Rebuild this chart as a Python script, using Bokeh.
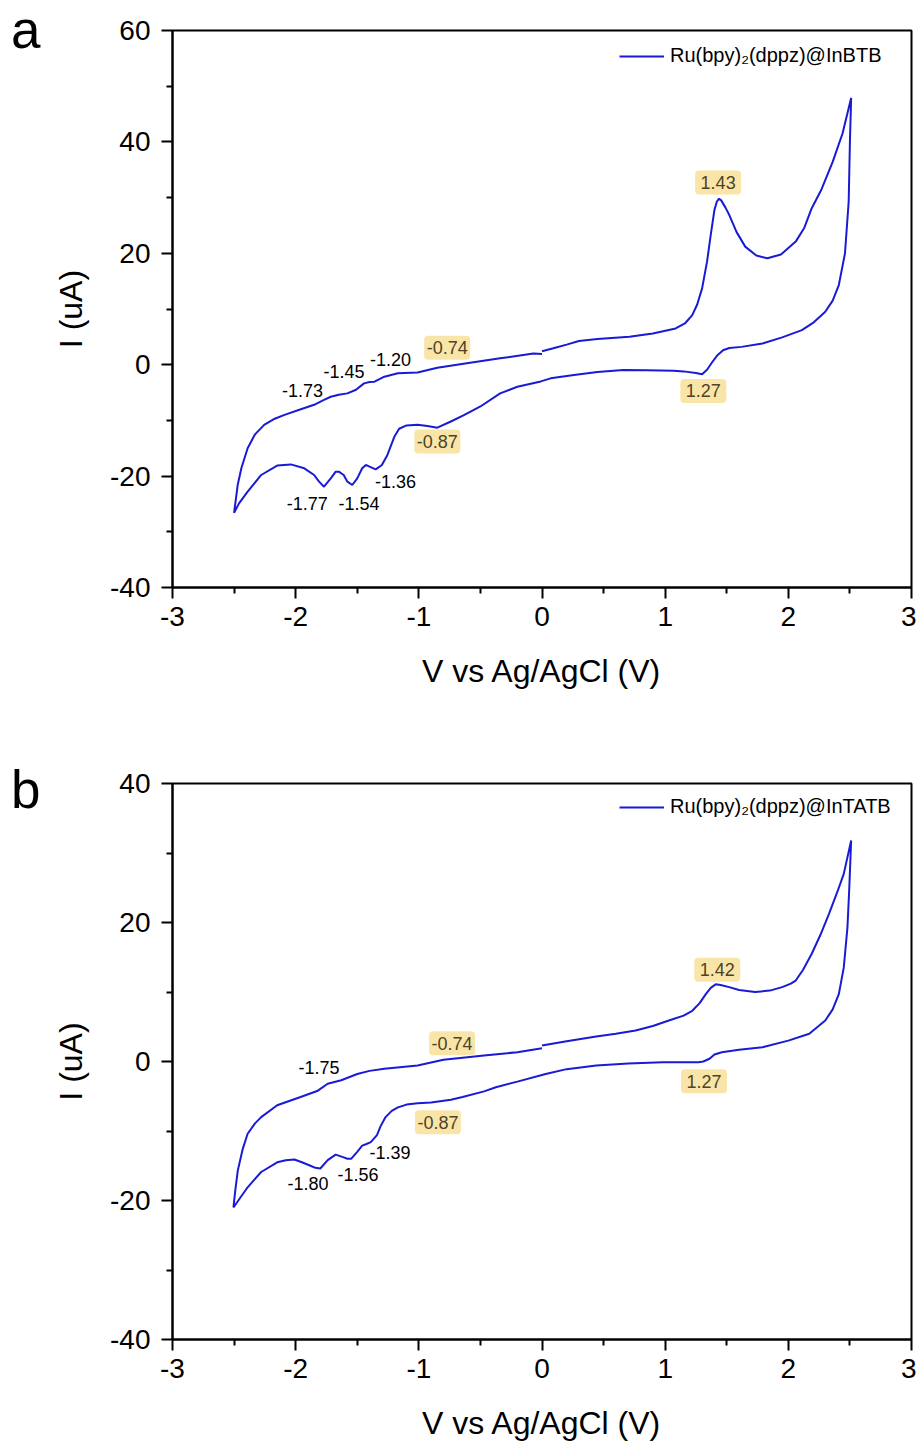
from bokeh.plotting import figure
from bokeh.models import Range1d, FixedTicker, ColumnDataSource, Legend, LegendItem, Div
from bokeh.layouts import column, row
from bokeh.core.properties import value
from bokeh.embed import file_html
from bokeh.resources import INLINE

FONT = "Liberation Sans"
BLUE = "#1a1ad6"
BOX_FILL = "#fae5a8"
BOX_TEXT = "#4d4326"

# ---------------- Panel a: Ru(bpy)2(dppz)@InBTB ----------------
a_fwd_v = [0.00, 0.10, 0.20, 0.30, 0.45, 0.71, 0.90, 1.085, 1.16, 1.22, 1.26, 1.30, 1.34, 1.37, 1.40,
           1.42, 1.437, 1.455, 1.49, 1.52, 1.58, 1.65, 1.74, 1.83, 1.94, 2.06, 2.13, 2.19, 2.27,
           2.36, 2.44, 2.51]
a_fwd_i = [2.4, 3.0, 3.6, 4.25, 4.6, 5.0, 5.6, 6.5, 7.4, 8.9, 10.8, 13.7, 18.5, 23.3, 27.8,
           29.3, 29.8, 29.5, 28.2, 26.9, 23.8, 21.2, 19.6, 19.1, 19.8, 22.1, 24.6, 28.1, 31.5,
           36.4, 41.5, 47.9]
a_rev_v = [2.51, 2.50, 2.49, 2.46, 2.41, 2.36, 2.30, 2.20, 2.11, 1.95, 1.79, 1.62, 1.52, 1.47, 1.42,
           1.38, 1.34, 1.30, 1.25, 1.15, 1.07, 0.85, 0.66, 0.45, 0.26, 0.07, -0.01, -0.20, -0.34,
           -0.50, -0.63, -0.74, -0.85, -0.93, -1.01, -1.10, -1.16, -1.20, -1.255, -1.30, -1.35,
           -1.40, -1.43, -1.46, -1.50, -1.54, -1.58, -1.61, -1.65, -1.675, -1.715, -1.77, -1.81,
           -1.85, -1.93, -2.04, -2.15, -2.28, -2.39, -2.46, -2.50]
a_rev_i = [47.9, 40.0, 29.3, 20.0, 14.3, 11.5, 9.5, 7.5, 6.2, 4.9, 3.8, 3.2, 3.0, 2.6, 1.6,
           0.4, -0.9, -1.7, -1.5, -1.2, -1.1, -1.0, -0.95, -1.3, -1.85, -2.45, -3.0, -3.95, -5.15,
           -7.5, -9.0, -10.2, -11.3, -11.0, -10.8, -10.9, -11.5, -13.0, -16.2, -18.0, -18.8,
           -18.3, -18.0, -18.6, -20.4, -21.6, -21.0, -19.8, -19.2, -19.2, -20.4, -21.9, -21.0,
           -19.8, -18.6, -17.9, -18.1, -19.8, -22.8, -24.9, -26.6]
a_ret_v = [-2.50, -2.47, -2.44, -2.39, -2.33, -2.256, -2.17, -2.09, -1.97, -1.85, -1.77, -1.715,
           -1.65, -1.58, -1.51, -1.445, -1.40, -1.36, -1.28, -1.17, -1.01, -0.85, -0.61, -0.34,
           -0.07, 0.00]
a_ret_i = [-26.6, -21.5, -18.5, -15.0, -12.5, -10.8, -9.7, -9.0, -8.1, -7.2, -6.3, -5.75,
           -5.4, -5.15, -4.5, -3.35, -3.1, -3.05, -2.15, -1.55, -1.4, -0.55, 0.25, 1.15,
           2.0, 1.9]

a_lab_text = ["-1.73", "-1.45", "-1.20", "-1.77", "-1.54", "-1.36"]
a_lab_v = [-1.945, -1.607, -1.23, -1.905, -1.486, -1.19]
a_lab_i = [-4.55, -1.25, 0.85, -24.9, -24.9, -21.0]
a_box_text = ["-0.74", "-0.87", "1.43", "1.27"]
a_box_v = [-0.77, -0.85, 1.43, 1.31]
a_box_i = [3.05, -13.8, 32.7, -4.7]

# ---------------- Panel b: Ru(bpy)2(dppz)@InTATB ----------------
b_fwd_v = [0.00, 0.20, 0.44, 0.60, 0.76, 0.90, 1.03, 1.15, 1.22, 1.28, 1.33, 1.37, 1.41, 1.45,
           1.52, 1.60, 1.73, 1.85, 1.95, 2.02, 2.06, 2.12, 2.19, 2.26, 2.33, 2.40, 2.45, 2.51]
b_fwd_i = [2.3, 2.9, 3.6, 4.0, 4.46, 5.1, 5.9, 6.6, 7.3, 8.4, 9.7, 10.6, 11.1, 11.0,
           10.7, 10.3, 10.0, 10.2, 10.7, 11.2, 11.65, 13.2, 15.5, 18.2, 21.25, 24.5, 27.0, 31.8]
b_rev_v = [2.51, 2.495, 2.48, 2.45, 2.41, 2.36, 2.30, 2.17, 2.00, 1.79, 1.60, 1.46, 1.40, 1.36,
           1.31, 1.27, 1.10, 0.98, 0.70, 0.44, 0.20, 0.03, -0.20, -0.375, -0.47, -0.645, -0.74,
           -0.90, -1.01, -1.10, -1.17, -1.22, -1.27, -1.31, -1.34, -1.39, -1.43, -1.46, -1.50,
           -1.55, -1.58, -1.61, -1.675, -1.74, -1.80, -1.84, -1.88, -1.95, -2.01, -2.08, -2.15,
           -2.28, -2.39, -2.45, -2.505]
b_rev_i = [31.8, 25.0, 19.3, 13.5, 9.7, 7.5, 5.9, 4.0, 3.0, 2.06, 1.7, 1.34, 1.0, 0.4,
           0.0, -0.1, -0.1, -0.1, -0.3, -0.58, -1.1, -1.8, -2.9, -3.7, -4.3, -5.1, -5.5,
           -5.9, -6.0, -6.2, -6.6, -7.1, -8.0, -9.3, -10.6, -11.6, -11.9, -12.1, -13.0,
           -14.0, -14.0, -13.8, -13.4, -14.2, -15.4, -15.3, -15.0, -14.5, -14.1, -14.2, -14.5,
           -15.9, -18.1, -19.6, -21.0]
b_ret_v = [-2.505, -2.49, -2.47, -2.43, -2.39, -2.33, -2.28, -2.15, -1.96, -1.82, -1.74, -1.63,
           -1.50, -1.40, -1.28, -1.01, -0.80, -0.47, -0.20, 0.00]
b_ret_i = [-21.0, -18.5, -15.7, -12.6, -10.4, -8.9, -8.0, -6.3, -5.1, -4.2, -3.2, -2.7,
           -1.8, -1.35, -1.05, -0.58, 0.24, 0.86, 1.34, 1.9]

b_lab_text = ["-1.75", "-1.80", "-1.56", "-1.39"]
b_lab_v = [-1.81, -1.90, -1.494, -1.234]
b_lab_i = [-0.82, -17.6, -16.26, -13.05]
b_box_text = ["-0.74", "-0.87", "1.42", "1.27"]
b_box_v = [-0.73, -0.845, 1.423, 1.315]
b_box_i = [2.63, -8.73, 13.2, -2.83]

x_ticks = [-3, -2, -1, 0, 1, 2, 3]
x_minor = [-2.5, -1.5, -0.5, 0.5, 1.5, 2.5]

DIV_W = 48


def make_panel(legend_label, fv, fi, rv, ri, tv, ti, lt, lv, li, bt, bv, bi,
               y_lo, y_hi, y_ticks, y_minor, frame_h, top_border, bottom_border, legend_vy):
    p = figure(frame_width=739, frame_height=frame_h,
               x_range=Range1d(-3, 3), y_range=Range1d(y_lo, y_hi),
               output_backend="svg", toolbar_location=None,
               min_border_left=172 - DIV_W, min_border_right=5,
               min_border_top=top_border, min_border_bottom=bottom_border)
    p.xgrid.visible = False
    p.ygrid.visible = False
    p.outline_line_color = "black"
    p.outline_line_width = 2
    p.background_fill_color = "white"
    p.border_fill_color = "white"

    for ax in (p.xaxis[0], p.yaxis[0]):
        ax.axis_line_width = 2
        ax.axis_line_color = "black"
        ax.major_tick_line_width = 2
        ax.minor_tick_line_width = 2
        ax.major_tick_in = 0
        ax.minor_tick_in = 0
        ax.major_tick_out = 11
        ax.minor_tick_out = 6
        ax.major_label_text_font = FONT
        ax.major_label_text_font_size = "28px"
        ax.major_label_text_color = "black"
        ax.axis_label_text_font = FONT
        ax.axis_label_text_font_size = "32px"
        ax.axis_label_text_font_style = "normal"
        ax.axis_label_text_color = "black"

    p.xaxis.ticker = FixedTicker(ticks=x_ticks, minor_ticks=x_minor)
    p.yaxis.ticker = FixedTicker(ticks=y_ticks, minor_ticks=y_minor)
    p.xaxis.major_label_overrides = {t: str(t) for t in x_ticks}
    p.yaxis.major_label_overrides = {t: str(t) for t in y_ticks}
    p.xaxis.axis_label = "V vs Ag/AgCl (V)"
    p.yaxis.axis_label = "I (uA)"
    p.xaxis.major_label_standoff = 8
    p.yaxis.major_label_standoff = 11
    p.xaxis.axis_label_standoff = 24
    p.yaxis.axis_label_standoff = 18

    v = fv + rv[1:] + tv[1:]
    i = fi + ri[1:] + ti[1:]
    r = p.line(v, i, line_color=BLUE, line_width=2)

    src_l = ColumnDataSource(dict(x=lv, y=li, text=lt))
    p.text(x="x", y="y", text="text", source=src_l, text_font=value(FONT),
           text_font_size="18px", text_align="center", text_baseline="middle",
           text_color="black")
    src_b = ColumnDataSource(dict(x=bv, y=bi, text=bt))
    p.rect(x="x", y="y", width=46, height=24, width_units="screen", height_units="screen",
           source=src_b, fill_color=BOX_FILL, line_color=None, border_radius=4)
    p.text(x="x", y="y", text="text", source=src_b, text_font=value(FONT),
           text_font_size="18px", text_align="center", text_baseline="middle",
           text_color=BOX_TEXT)

    legend = Legend(items=[LegendItem(label=legend_label, renderers=[r])],
                    location=(447, legend_vy), margin=0, padding=0,
                    glyph_width=45, glyph_height=20, label_standoff=6, label_height=20,
                    label_text_font=FONT, label_text_font_size="20px",
                    label_text_color="black",
                    border_line_color=None, background_fill_alpha=0)
    p.add_layout(legend)
    return p


def letter_div(letter, pad_top, height):
    return Div(text=('<div style="font-family: \'Liberation Sans\', Arial, sans-serif; '
                     'font-size: 53px; line-height: 60px; color: black; margin: 0; '
                     'padding-top: %dpx; padding-left: 11px;">%s</div>') % (pad_top, letter),
               width=DIV_W, height=height, margin=0)


pa = make_panel("Ru(bpy)\u2082(dppz)@InBTB", a_fwd_v, a_fwd_i, a_rev_v, a_rev_i,
                a_ret_v, a_ret_i, a_lab_text, a_lab_v, a_lab_i, a_box_text, a_box_v, a_box_i,
                -40, 60, [-40, -20, 0, 20, 40, 60], [-30, -10, 10, 30, 50],
                557, 30, 120, 520)
pb = make_panel("Ru(bpy)\u2082(dppz)@InTATB", b_fwd_v, b_fwd_i, b_rev_v, b_rev_i,
                b_ret_v, b_ret_i, b_lab_text, b_lab_v, b_lab_i, b_box_text, b_box_v, b_box_i,
                -40, 40, [-40, -20, 0, 20, 40], [-30, -10, 10, 30],
                556, 76, 100, 521)

layout = column(row(letter_div("a", 0, 100), pa, spacing=0),
                row(letter_div("b", 53, 160), pb, spacing=0), spacing=0)
open("out.html", "w").write(file_html(layout, INLINE))
